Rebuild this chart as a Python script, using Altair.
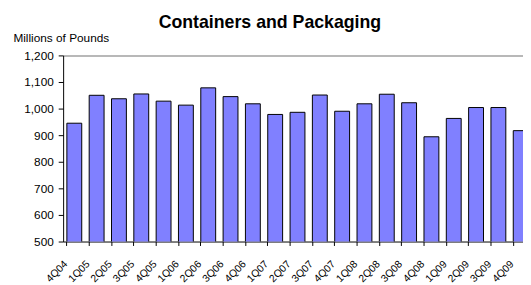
import altair as alt
import pandas as pd

quarters = ["4Q04", "1Q05", "2Q05", "3Q05", "4Q05", "1Q06", "2Q06", "3Q06", "4Q06",
            "1Q07", "2Q07", "3Q07", "4Q07", "1Q08", "2Q08", "3Q08", "4Q08",
            "1Q09", "2Q09", "3Q09", "4Q09"]
values = [945, 1050, 1037, 1055, 1028, 1013, 1078, 1045, 1018,
          978, 986, 1051, 990, 1018, 1054, 1022, 894,
          963, 1004, 1004, 917]
y_ticks = [500, 600, 700, 800, 900, 1000, 1100, 1200]

df = pd.DataFrame({"quarter": quarters, "value": values})
FONT = "Liberation Sans"

bars = alt.Chart(df).mark_bar(color="#8080FF", stroke="#000000", strokeWidth=1, clip=True).encode(
    x=alt.X("quarter:N", sort=quarters,
            scale=alt.Scale(paddingInner=1/3, paddingOuter=1/6),
            axis=alt.Axis(title=None, labelAngle=-45, labelAlign="right", labelBaseline="middle",
                          bandPosition=0, tickSize=4, labelPadding=17, labelOffset=-8.5,
                          labelFont=FONT, labelFontSize=10.5, labelColor="#000",
                          domainColor="#000", tickColor="#000", grid=False,
                          labelOverlap=False)),
    y=alt.Y("value:Q", scale=alt.Scale(domain=[500, 1200], nice=False, zero=False),
            axis=alt.Axis(values=y_ticks, format=",.0f", title="Millions of Pounds",
                          titleAngle=0, titleAlign="left", titleBaseline="alphabetic",
                          titleX=-51, titleY=-14, titleFont=FONT, titleFontSize=12,
                          titleFontWeight="normal", titleColor="#000",
                          labelFont=FONT, labelFontSize=12, labelColor="#000",
                          labelPadding=5, tickSize=5, tickColor="#000",
                          labelOverlap=False, domainColor="#000",
                          grid=True, gridWidth=1.5,
                          gridColor={"condition": {"test": "datum.value == 1200",
                                                   "value": "#A0A0A0"},
                                     "value": "transparent"})),
)

chart = bars.properties(
    width=476, height=189,
    autosize=alt.AutoSizeParams(type="none"),
    padding={"left": 56, "top": 46, "right": -9, "bottom": 42},
    title=alt.TitleParams("Containers and Packaging", font=FONT, fontSize=18,
                          fontWeight="bold", color="#000", anchor="middle",
                          dx=-28, offset=0),
).configure_view(stroke=None)

chart.save("out.html", embed_options={"renderer": "svg", "actions": False})
